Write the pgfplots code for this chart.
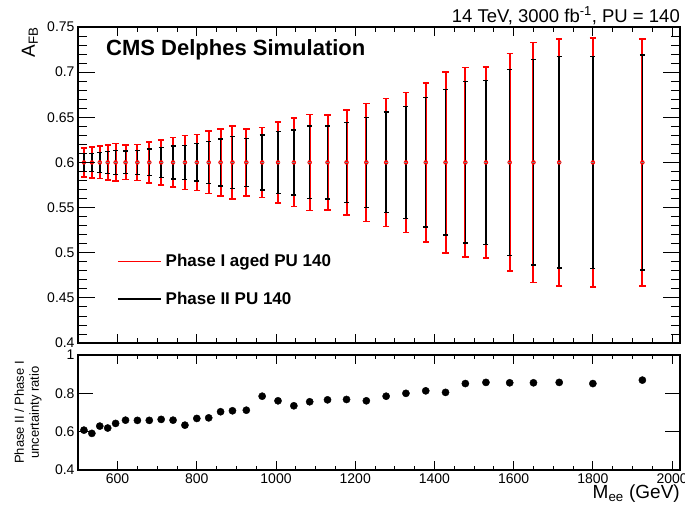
\documentclass[border=0pt]{standalone}
\usepackage{pgfplots}
\usepackage{pgfplotstable}
\pgfplotsset{compat=1.18}
\usepackage{fontspec}
\setmainfont{Liberation Sans}

\pgfplotstableread{
x y ered eblack ratio
515 0.6 0.0162 0.0099 0.608
535 0.6 0.0173 0.0102 0.591
555 0.6 0.0180 0.0113 0.629
575 0.6 0.0195 0.0121 0.619
595 0.6 0.0208 0.0134 0.643
620 0.6 0.0190 0.0125 0.660
650 0.6 0.0200 0.0132 0.659
680 0.6 0.0225 0.0148 0.659
710 0.6 0.0247 0.0164 0.664
740 0.6 0.0275 0.0182 0.660
770 0.6 0.0300 0.0190 0.634
800 0.6 0.0310 0.0207 0.669
830 0.6 0.0345 0.0232 0.672
860 0.6 0.0369 0.0260 0.704
890 0.6 0.0404 0.0286 0.709
925 0.6 0.0373 0.0266 0.712
965 0.6 0.0389 0.0305 0.785
1005 0.6 0.0450 0.0343 0.761
1045 0.6 0.0489 0.0359 0.735
1085 0.6 0.0532 0.0402 0.756
1130 0.6 0.0528 0.0404 0.766
1178 0.6 0.0580 0.0445 0.768
1228 0.6 0.0653 0.0497 0.761
1278 0.6 0.0709 0.0557 0.785
1328 0.6 0.0775 0.0620 0.800
1378 0.6 0.0882 0.0717 0.813
1428 0.6 0.1000 0.0805 0.805
1478 0.6 0.1050 0.0894 0.851
1530 0.6 0.1060 0.0908 0.857
1590 0.6 0.1205 0.1030 0.855
1650 0.6 0.1330 0.1137 0.855
1715 0.6 0.1366 0.1171 0.857
1800 0.6 0.1380 0.1174 0.851
1925 0.6 0.1370 0.1191 0.869
}\data

\pgfplotsset{
  base/.style={
    scale only axis, width=602pt, anchor=south west,
    xmin=500, xmax=2020,
    tick align=inside, xtick pos=both, ytick pos=both,
    axis line style={line width=1.4pt},
    tick style={line width=0.8pt, black},
    ticklabel style={font=\fontsize{14}{16}\selectfont},
    /pgf/number format/assume math mode=true,
    /pgf/number format/1000 sep={},
  }
}

\begin{document}
\begin{tikzpicture}
\useasboundingbox (0pt,0pt) rectangle (685pt,506pt);

% top panel: x ticks, data, legend
\begin{axis}[base, at={(78pt,163pt)}, height=316pt,
  ymin=0.4, ymax=0.75, ytick=\empty,
  xtick={600,800,1000,1200,1400,1600,1800,2000}, minor x tick num=3,
  xticklabels={},
  major tick length=9pt, minor tick length=5pt,
  legend style={at={(rel axis cs:0.0648,0.199)}, anchor=west, draw=none, fill=none,
    font=\bfseries\fontsize{17}{17}\selectfont, row sep=16pt, inner sep=0pt,
    nodes={inner sep=4pt}},
  legend cell align=left,
  legend image code/.code={\draw[#1] (0pt,0pt) -- (43pt,0pt);},
]
\addplot[red, only marks, mark=none, forget plot,
  error bars/.cd, y dir=both, y explicit,
  error bar style={line width=2pt, red},
  error mark options={rotate=90, line width=1.6pt, red, mark size=3.2pt}]
  table[x=x, y=y, y error=ered]{\data};
\addplot[black, only marks, mark=-, mark size=1.5pt, mark options={gray, line width=0.5pt}, forget plot,
  error bars/.cd, y dir=both, y explicit,
  error bar style={line width=1.5pt, black},
  error mark options={rotate=90, line width=1.4pt, black, mark size=2.5pt}]
  table[x=x, y=y, y error=eblack]{\data};
\addlegendimage{red, line width=1.2pt}
\addlegendentry{Phase I aged PU 140}
\addlegendimage{black, line width=1.5pt}
\addlegendentry{Phase II PU 140}
\end{axis}

% top panel: y ticks, labels, annotations
\begin{axis}[base, at={(78pt,163pt)}, height=316pt, clip=false,
  ymin=0.4, ymax=0.75, xtick=\empty,
  ytick={0.4,0.45,0.5,0.55,0.6,0.65,0.7,0.75}, minor y tick num=4,
  yticklabel style={/pgf/number format/fixed, /pgf/number format/precision=2},
  major tick length=17pt, minor tick length=9pt,
  ylabel={A\textsubscript{FB}},
  ylabel style={font=\fontsize{19}{19}\selectfont, at={(rel axis cs:-0.08,1)}, anchor=east, inner sep=0pt},
]
\node[anchor=base west, font=\bfseries\fontsize{22}{22}\selectfont, inner sep=0pt]
  at (rel axis cs:0.0465,0.911) {CMS Delphes Simulation};
\node[anchor=base east, font=\fontsize{18.5}{18.5}\selectfont, inner sep=0pt]
  at (rel axis cs:1,1.0158) {14 TeV, 3000 fb\textsuperscript{-1}, PU = 140};
\end{axis}

% bottom panel: x ticks, data
\begin{axis}[base, at={(78pt,36pt)}, height=115pt,
  ymin=0.4, ymax=1, ytick=\empty,
  xtick={600,800,1000,1200,1400,1600,1800,2000}, minor x tick num=3,
  major tick length=9pt, minor tick length=4.5pt,
  xlabel={M\textsubscript{ee} (GeV)},
  xlabel style={font=\fontsize{19}{19}\selectfont, at={(rel axis cs:1,0)}, anchor=north east, inner sep=0pt, yshift=-15pt},
]
\addplot[black, only marks, mark=*, mark size=3.6pt] table[x=x, y=ratio]{\data};
\end{axis}

% bottom panel: y ticks
\begin{axis}[base, at={(78pt,36pt)}, height=115pt,
  ymin=0.4, ymax=1, xtick=\empty,
  ytick={0.4,0.6,0.8,1},
  major tick length=15pt,
  ylabel={Phase II / Phase I\\uncertainty ratio},
  ylabel style={font=\fontsize{13}{15}\selectfont, align=center, at={(rel axis cs:-0.083,0.5)}, anchor=center, inner sep=0pt},
]
\end{axis}
\end{tikzpicture}
\end{document}
